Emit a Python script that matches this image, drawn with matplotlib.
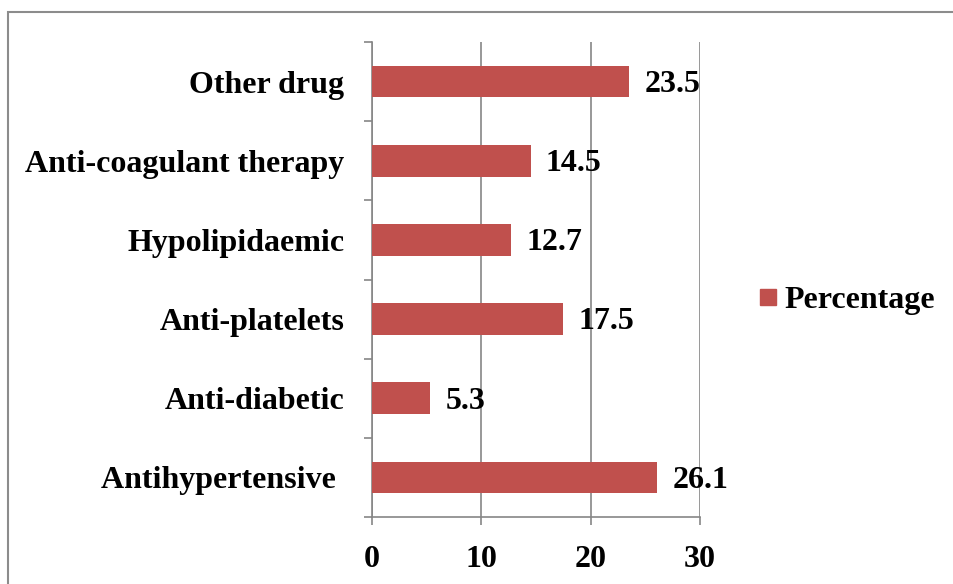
import matplotlib
matplotlib.use("Agg")
import matplotlib.pyplot as plt
from matplotlib.patches import Rectangle
from matplotlib.lines import Line2D

categories = ["Antihypertensive ", "Anti-diabetic", "Anti-platelets",
              "Hypolipidaemic", "Anti-coagulant therapy", "Other drug"]
values = [26.1, 5.3, 17.5, 12.7, 14.5, 23.5]
x_ticks = [0, 10, 20, 30]
series_name = "Percentage"

bar_color = "#C0504D"
grid_color = "#868686"
font = {"family": "Liberation Serif", "weight": "bold", "size": 23}

W, H = 954, 584
fig = plt.figure(figsize=(W / 100, H / 100), dpi=100)
ax = fig.add_axes([372 / W, 1 - 517 / H, (700 - 372) / W, (517 - 42) / H])

pos = list(range(len(categories)))
ax.barh(pos, values, height=0.4, color=bar_color, zorder=3)

for p, v in zip(pos, values):
    ax.annotate(f"{v}", xy=(v, p), xytext=(11, -2), textcoords="offset points",
                ha="left", va="center", zorder=4, **font)

ax.set_xlim(0, 30)
ax.set_ylim(-0.5, len(categories) - 0.5)
ax.set_xticks(x_ticks)
ax.set_xticklabels([str(t) for t in x_ticks], **font)

# category boundaries carry the tick marks, centres carry the labels
ax.set_yticks([i - 0.5 for i in range(len(categories) + 1)])
ax.set_yticklabels([])
ax.set_yticks(pos, minor=True)
ax.set_yticklabels(categories, minor=True, **font)
ax.tick_params(axis="y", which="major", length=6, width=1.2, color=grid_color, direction="out")
ax.tick_params(axis="y", which="minor", length=0, pad=20)
ax.tick_params(axis="x", length=6, width=1.2, color=grid_color, direction="out", pad=14)

ax.xaxis.grid(True, color=grid_color, linewidth=1.2, zorder=0)
ax.set_axisbelow(True)
for s in ("top", "right"):
    ax.spines[s].set_visible(False)
for s in ("left", "bottom"):
    ax.spines[s].set_color(grid_color)
    ax.spines[s].set_linewidth(1.2)

# legend
handle = Line2D([], [], marker="s", linestyle="none", markersize=12,
                markerfacecolor=bar_color, markeredgecolor=bar_color)
fig.legend([handle], [series_name], loc="center left",
           bbox_to_anchor=(742 / W, 1 - 300 / H), frameon=False,
           prop={"family": "Liberation Serif", "weight": "bold", "size": 23},
           handlelength=0.6, handletextpad=0.22, borderpad=0)

# chart area outline
fig.patches.append(Rectangle((8 / W, -0.05), 1.1, 1 - 12 / H + 0.05,
                             transform=fig.transFigure, fill=False,
                             edgecolor="#8C8C8C", linewidth=1.5))

fig.savefig("out.png", dpi=100)
